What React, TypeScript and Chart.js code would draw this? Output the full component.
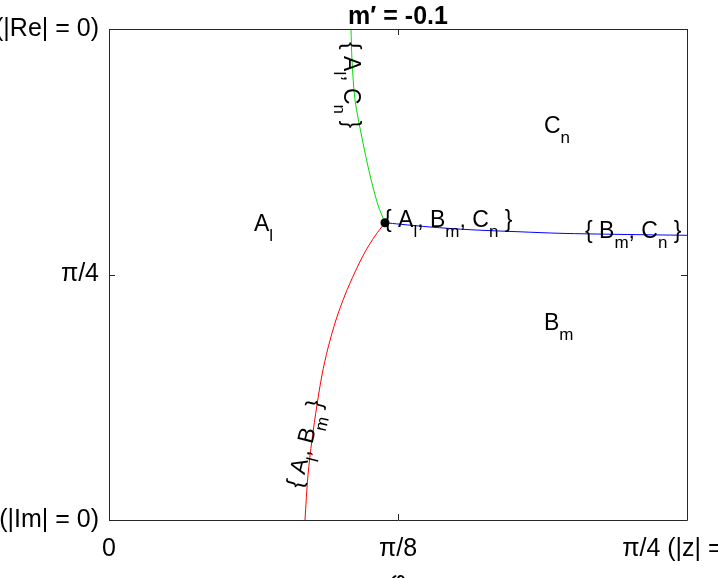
import React, { useEffect, useRef } from "react";
import { Chart, registerables } from "chart.js";
Chart.register(...registerables);

const PI = Math.PI;
const FAMILY = "'Liberation Sans', Arial, Helvetica, sans-serif";

// axis ticks
const xTicks = [0, PI / 8, PI / 4];
const xTickLabels = ["0", "π/8", "π/4 (|z| = 1)"];
const yTicks = [0, PI / 4, PI / 2];
const yTickLabels = ["0 (|Im| = 0)", "π/4", "π/2 (|Re| = 0)"];
const titleText = "m′ = -0.1";
const xTitle = "φ";

// triple point
const triplePhi = [0.375];
const tripleTheta = [0.9511];

// boundary {A_l, C_n}
const greenPhi = [0.3288, 0.3302, 0.3343, 0.3438, 0.3546, 0.3655, 0.375];
const greenTheta = [1.5708, 1.4716, 1.3437, 1.2221, 1.1037, 1.0077, 0.9511];

// boundary {A_l, B_m}
const redPhi = [0.375, 0.3614, 0.3479, 0.3343, 0.3207, 0.3084, 0.2976, 0.2894, 0.2826, 0.2758, 0.2704, 0.2663];
const redTheta = [0.9511, 0.9086, 0.8574, 0.7934, 0.7198, 0.6398, 0.5503, 0.4639, 0.3679, 0.2559, 0.144, 0];

// boundary {B_m, C_n}
const bluePhi = [0.375, 0.3954, 0.4362, 0.4905, 0.5585, 0.6128, 0.6943, 0.7854];
const blueTheta = [0.9511, 0.9463, 0.9374, 0.9287, 0.922, 0.9172, 0.9137, 0.9108];

type Part = [string, boolean];
// annotation texts (main / subscript parts), anchored at data coordinates
const labelParts: Part[][] = [
  [["A", false], ["l", true]],
  [["C", false], ["n", true]],
  [["B", false], ["m", true]],
  [["{ A", false], ["l", true], [", B", false], ["m", true], [", C", false], ["n", true], [" }", false]],
  [["{ B", false], ["m", true], [", C", false], ["n", true], [" }", false]],
  [["{ A", false], ["l", true], [", C", false], ["n", true], [" }", false]],
  [["{ A", false], ["l", true], [", B", false], ["m", true], [" }", false]],
];
const labelPhi = [0.197, 0.5911, 0.5911, 0.3737, 0.6468, 0.3193, 0.2609];
const labelTheta = [0.9246, 1.2381, 0.6078, 0.9374, 0.9022, 1.5292, 0.0992];
const labelAngle = [0, 0, 0, 0, 0, 90, -76];

function pts(xs: number[], ys: number[]) {
  return xs.map((x, i) => ({ x, y: ys[i] }));
}

function drawRich(ctx: CanvasRenderingContext2D, x: number, y: number, angleDeg: number, parts: Part[]) {
  ctx.save();
  ctx.translate(x, y);
  ctx.rotate((angleDeg * PI) / 180);
  ctx.textAlign = "left";
  ctx.textBaseline = "alphabetic";
  ctx.fillStyle = "#000";
  let cx = 0;
  for (const [t, sub] of parts) {
    ctx.font = sub ? `17px ${FAMILY}` : `23px ${FAMILY}`;
    ctx.fillText(t, cx, sub ? 10 : 0);
    cx += ctx.measureText(t).width;
  }
  ctx.restore();
}

const overlay = {
  id: "overlay",
  afterDraw(chart: any) {
    const ctx: CanvasRenderingContext2D = chart.ctx;
    const xs = chart.scales.x;
    const ys = chart.scales.y;
    const { left, right, top, bottom } = chart.chartArea;
    ctx.save();
    // box
    ctx.strokeStyle = "#262626";
    ctx.lineWidth = 1;
    ctx.beginPath();
    ctx.rect(Math.round(left) + 0.5, Math.round(top) + 0.5, Math.round(right - left), Math.round(bottom - top));
    ctx.stroke();
    // inward ticks
    const tl = 6;
    ctx.beginPath();
    for (const v of xTicks) {
      const px = Math.round(xs.getPixelForValue(v)) + 0.5;
      ctx.moveTo(px, bottom);
      ctx.lineTo(px, bottom - tl);
      ctx.moveTo(px, top);
      ctx.lineTo(px, top + tl);
    }
    for (const v of yTicks) {
      const py = Math.round(ys.getPixelForValue(v)) + 0.5;
      ctx.moveTo(left, py);
      ctx.lineTo(left + tl, py);
      ctx.moveTo(right, py);
      ctx.lineTo(right - tl, py);
    }
    ctx.stroke();
    // title
    ctx.fillStyle = "#000";
    ctx.font = `bold 25px ${FAMILY}`;
    ctx.textAlign = "center";
    ctx.textBaseline = "alphabetic";
    ctx.fillText(titleText, (left + right) / 2, 24);
    // x title (mostly off-canvas)
    ctx.font = `25px ${FAMILY}`;
    ctx.textBaseline = "top";
    ctx.fillText(xTitle, (left + right) / 2, 570);
    // annotations
    for (let i = 0; i < labelParts.length; i++) {
      drawRich(ctx, xs.getPixelForValue(labelPhi[i]), ys.getPixelForValue(labelTheta[i]), labelAngle[i], labelParts[i]);
    }
    // triple point
    ctx.fillStyle = "#000";
    ctx.beginPath();
    ctx.arc(xs.getPixelForValue(triplePhi[0]), ys.getPixelForValue(tripleTheta[0]), 4.5, 0, 2 * PI);
    ctx.fill();
    ctx.restore();
  },
};

export default function App() {
  const ref = useRef<HTMLCanvasElement | null>(null);
  useEffect(() => {
    if (!ref.current) return;
    const chart = new Chart(ref.current, {
      type: "scatter",
      data: {
        datasets: [
          { data: pts(greenPhi, greenTheta), borderColor: "#00dd00", borderWidth: 1, showLine: true, pointRadius: 0, tension: 0.3 },
          { data: pts(redPhi, redTheta), borderColor: "#ff0000", borderWidth: 1, showLine: true, pointRadius: 0, tension: 0.3 },
          { data: pts(bluePhi, blueTheta), borderColor: "#0000ff", borderWidth: 1, showLine: true, pointRadius: 0, tension: 0.3 },
        ],
      },
      plugins: [overlay],
      options: {
        animation: false,
        responsive: false,
        maintainAspectRatio: false,
        layout: { padding: { top: 29, right: 31, left: 0, bottom: 0 } },
        plugins: { legend: { display: false }, tooltip: { enabled: false }, title: { display: false } },
        scales: {
          x: {
            type: "linear",
            min: 0,
            max: PI / 4,
            afterBuildTicks: (s: any) => {
              s.ticks = xTicks.map((v) => ({ value: v }));
            },
            afterFit: (s: any) => {
              s.height = 58;
              s.paddingLeft = 0;
              s.paddingRight = 0;
            },
            ticks: {
              autoSkip: false,
              maxRotation: 0,
              minRotation: 0,
              padding: 14,
              color: "#000",
              font: { size: 25, family: FAMILY },
              callback: (_v: any, i: number) => xTickLabels[i],
            },
            grid: { display: false, drawTicks: false },
            border: { display: false },
          },
          y: {
            type: "linear",
            min: 0,
            max: PI / 2,
            afterBuildTicks: (s: any) => {
              s.ticks = yTicks.map((v) => ({ value: v }));
            },
            afterFit: (s: any) => {
              s.width = 109;
              s.paddingTop = 0;
              s.paddingBottom = 0;
            },
            ticks: {
              autoSkip: false,
              padding: 10,
              color: "#000",
              font: { size: 25, family: FAMILY },
              callback: (_v: any, i: number) => yTickLabels[i],
            },
            grid: { display: false, drawTicks: false },
            border: { display: false },
          },
        },
      },
    } as any);
    return () => chart.destroy();
  }, []);
  return (
    <div style={{ position: "absolute", left: 0, top: 0, width: 718, height: 578, background: "#fff" }}>
      <canvas ref={ref} width={718} height={578} style={{ width: 718, height: 578, display: "block" }} />
    </div>
  );
}
